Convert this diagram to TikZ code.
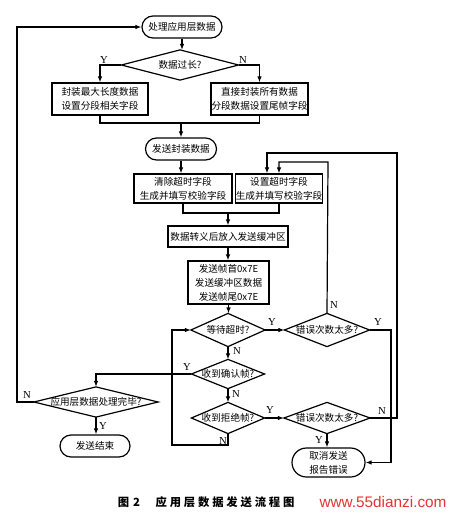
\documentclass[tikz,border=0pt]{standalone}
\usepackage{fontspec}
\setmainfont{Liberation Serif}
\newfontfamily\cjk{Noto Sans CJK SC}
\newfontfamily\cjkcap[LetterSpace=25]{Noto Sans CJK SC}
\newfontfamily\wmfont{Liberation Sans}
\usetikzlibrary{arrows.meta,shapes.misc}
\definecolor{wmred}{RGB}{226,52,52}
\begin{document}
\begin{tikzpicture}[x=0.75pt,y=-0.75pt,line width=0.9pt,
  every node/.style={inner sep=0pt,align=center,font=\cjk\fontsize{7.2}{10.5}\selectfont},
  box/.style={draw,rectangle},
  term/.style={draw,rounded rectangle},
  dia/.style={rectangle},
  arr/.style={-{Latex[length=4.5pt,width=3.4pt]}},
  lbl/.style={font=\rmfamily\fontsize{8}{9}\selectfont}]
\fill[white] (0,0) rectangle (453,513);
\useasboundingbox (0,0) rectangle (453,513);
% nodes
\node[term,minimum width=60pt,minimum height=16.5pt] (start) at (182,27) {处理应用层数据};
\node[dia,minimum width=87pt,minimum height=21.75pt] (d1) at (180,65) {数据过长?};
\node[box,minimum width=72pt,minimum height=24pt] (b1) at (100,99) {封装最大长度数据\\设置分段相关字段};
\node[box,minimum width=72.75pt,minimum height=24pt] (b2) at (259.5,99) {直接封装所有数据\\分段数据设置尾帧字段};
\node[term,minimum width=53.25pt,minimum height=16.5pt] (s2) at (181,149) {发送封装数据};
\node[box,minimum width=73.5pt,minimum height=21.75pt] (b3) at (183,188.5) {清除超时字段\\生成并填写校验字段};
\node[box,minimum width=65.25pt,minimum height=21.75pt] (b4) at (279,188.5) {设置超时字段\\生成并填写校验字段};
\node[box,minimum width=90pt,minimum height=15.75pt] (b5) at (228,236.5) {数据转义后放入发送缓冲区};
\node[box,minimum width=60.75pt,minimum height=32.25pt] (b6) at (228.5,282.5) {发送帧首0x7E\\发送缓冲区数据\\发送帧尾0x7E};
\node[dia,minimum width=54.75pt,minimum height=24pt] (d2) at (228,330) {等待超时?};
\node[dia,minimum width=63pt,minimum height=24pt] (e1) at (327,330) {错误次数太多?};
\node[dia,minimum width=54pt,minimum height=21pt] (d3) at (228,374) {收到确认帧?};
\node[dia,minimum width=54pt,minimum height=22.5pt] (d4) at (228,418) {收到拒绝帧?};
\node[dia,minimum width=63.75pt,minimum height=22.5pt] (e2) at (327,418) {错误次数太多?};
\node[term,minimum width=54.75pt,minimum height=21.75pt] (t3) at (328.5,462.5) {取消发送\\报告错误};
\node[dia,minimum width=92.25pt,minimum height=21.75pt] (d5) at (96,402) {应用层数据处理完毕?};
\node[term,minimum width=52.5pt,minimum height=16.5pt] (t2) at (95,446) {发送结束};
\foreach \n in {d1,d2,e1,d3,d4,e2,d5}
  \draw (\n.north) -- (\n.east) -- (\n.south) -- (\n.west) -- cycle;
% helper coordinates
\coordinate (m1) at (181,123);
\coordinate (m2) at (228,213);
\coordinate (inA) at (279,162);
\coordinate (inB) at (328,162);
\coordinate (outA) at (267,153);
\coordinate (outB) at (397,153);
\coordinate (yr) at (391,330);
\coordinate (nl) at (172,445);
\coordinate (ll) at (17,402);
% connectors
\draw[arr] (start.south) -- (start.south |- d1.north);
\draw[arr] (d1.west) -| (b1.north);
\draw[arr] (d1.east) -| (b2.north);
\draw (b1.south) -- (b1.south |- m1) -- (b2.south |- m1) -- (b2.south);
\draw[arr] (m1) -- (m1 |- s2.north);
\draw[arr] (s2.south) -- (s2.south |- b3.north);
\draw (b3.south) -- (b3.south |- m2) -- (b4.south |- m2) -- (b4.south);
\draw[arr] (m2) -- (m2 |- b5.north);
\draw[arr] (b5.south) -- (b5.south |- b6.north);
\draw[arr] (b6.south) -- (b6.south |- d2.north);
\draw[arr] (d2.east) -- (e1.west);
\draw[arr] (e1.north) -- (inB) -- (inA) -- (inA |- b4.north);
\draw[arr] (e1.east) -- (yr) -- (yr |- t3.east) -- (t3.east);
\draw[arr] (d2.south) -- (d3.north);
\draw[arr] (d3.west) -| (d5.north);
\draw[arr] (d3.south) -- (d4.north);
\draw[arr] (d4.east) -- (e2.west);
\draw[arr] (e2.south) -- (e2.south |- t3.north);
\draw[arr] (e2.east) -- (e2.east -| outB) -- (outB) -- (outA) -- (outA |- b4.north);
\draw[arr] (d4.south) -- (d4.south |- nl) -- (nl) -- (nl |- d2.west) -- (d2.west);
\draw[arr] (d5.west) -- (ll) -- (ll |- start.west) -- (start.west);
\draw[arr] (d5.south) -- (d5.south |- t2.north);
% labels
\node[lbl] (y1) at (104,60) {Y};
\node[lbl] (n1) at (243,60) {N};
\node[lbl] (y2) at (272,322) {Y};
\node[lbl] (n2) at (334,305) {N};
\node[lbl] (y3) at (378,322) {Y};
\node[lbl] (n3) at (237,351) {N};
\node[lbl] (y4) at (187,367) {Y};
\node[lbl] (n4) at (236,394) {N};
\node[lbl] (y5) at (270,410) {Y};
\node[lbl] (n5) at (382,411) {N};
\node[lbl] (y6) at (319,440) {Y};
\node[lbl] (n6) at (223,441) {N};
\node[lbl] (n7) at (27,395) {N};
\node[lbl] (y7) at (103,426) {Y};
% caption
\node[font=\cjk\bfseries\fontsize{8.5}{10}\selectfont] (cap1) at (129,502) {图\hspace{3pt}2};
\node[font=\cjkcap\bfseries\fontsize{8.5}{10}\selectfont] (cap2) at (225,502) {应用层数据发送流程图};
\node[font=\wmfont\fontsize{11.5}{12}\selectfont,text=wmred] (wm) at (383,502) {www.55dianzi.com};
\end{tikzpicture}
\end{document}
